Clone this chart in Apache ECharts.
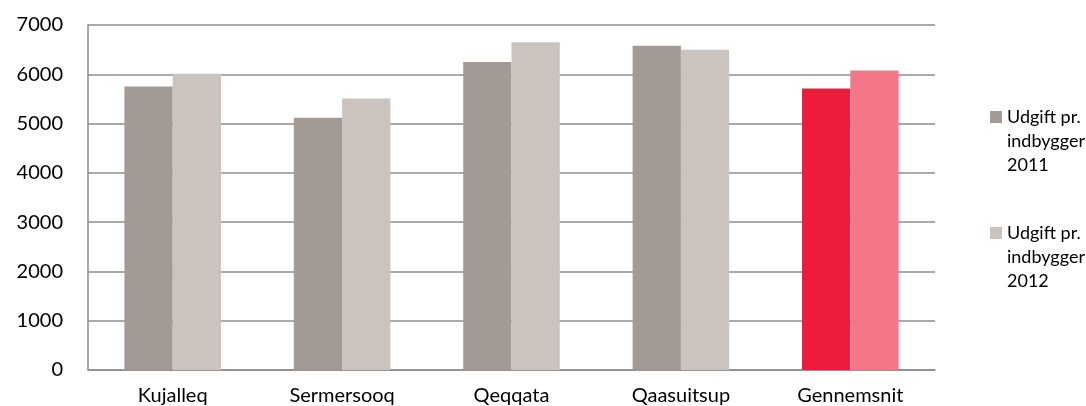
<!DOCTYPE html>
<html>
<head>
<meta charset="utf-8">
<title>Udgift pr. indbygger</title>
<script src="https://cdn.jsdelivr.net/npm/echarts@6/dist/echarts.min.js"></script>
<style>
  html, body { margin: 0; padding: 0; background: #ffffff; }
  #chart { width: 1086px; height: 406px; }
</style>
</head>
<body>
<div id="chart"></div>
<script>
// Municipalities plus the overall average
const categories = ['Kujalleq', 'Sermersooq', 'Qeqqata', 'Qaasuitsup', 'Gennemsnit'];

// Expenditure per inhabitant (kr.)
const udgift2011 = [5750, 5120, 6250, 6580, 5710];
const udgift2012 = [6010, 5510, 6650, 6500, 6075];

const seriesNames = ['Udgift pr.\nindbygger\n2011', 'Udgift pr.\nindbygger\n2012'];

// Axis range
const yMin = 0;
const yMax = 7000;
const yStep = 1000;

const FONT = 'Lato, "Noto Sans", sans-serif';
const GRID_COLOR = '#8c8c8c';

// Colours: grey pair for municipalities, red pair for the average
const colors2011 = { base: '#a39a94', avg: '#ed1b3c' };
const colors2012 = { base: '#cbc3be', avg: '#f37789' };

function withAverageColour(values, palette) {
  return values.map((v, i) => ({
    value: v,
    itemStyle: { color: categories[i] === 'Gennemsnit' ? palette.avg : palette.base }
  }));
}

// Legend marker: a small square aligned with the first text line
const legendIcon = 'path://M0,6H12V18H0Z M0,0L0,72L0,0Z M12,0L12,72L12,0Z';

const chart = echarts.init(document.getElementById('chart'), null, { renderer: 'canvas' });

chart.setOption({
  animation: false,
  backgroundColor: '#ffffff',
  textStyle: { fontFamily: FONT },
  grid: { left: 88, right: 151, top: 25, bottom: 35, containLabel: false },
  legend: {
    orient: 'vertical',
    left: 985,
    top: 100,
    itemWidth: 12,
    itemHeight: 72,
    itemGap: 44,
    icon: legendIcon,
    data: seriesNames,
    textStyle: { fontFamily: FONT, fontSize: 18, lineHeight: 24, color: '#000000' }
  },
  xAxis: {
    type: 'category',
    data: categories,
    axisLine: { show: true, lineStyle: { color: GRID_COLOR, width: 1.5 } },
    axisTick: { show: false },
    axisLabel: { color: '#000000', fontSize: 20, fontFamily: FONT, margin: 16 }
  },
  yAxis: {
    type: 'value',
    min: yMin,
    max: yMax,
    interval: yStep,
    axisLine: { show: true, lineStyle: { color: GRID_COLOR, width: 1.5 } },
    axisTick: { show: false },
    axisLabel: {
      color: '#000000',
      fontSize: 20,
      fontFamily: FONT,
      margin: 25,
      formatter: (value) => String(value)
    },
    splitLine: { show: true, lineStyle: { color: GRID_COLOR, width: 1.5 } }
  },
  series: [
    {
      name: seriesNames[0],
      type: 'bar',
      barGap: '0%',
      barCategoryGap: '43%',
      itemStyle: { color: colors2011.base },
      data: withAverageColour(udgift2011, colors2011)
    },
    {
      name: seriesNames[1],
      type: 'bar',
      barGap: '0%',
      barCategoryGap: '43%',
      itemStyle: { color: colors2012.base },
      data: withAverageColour(udgift2012, colors2012)
    }
  ]
});
</script>
</body>
</html>
